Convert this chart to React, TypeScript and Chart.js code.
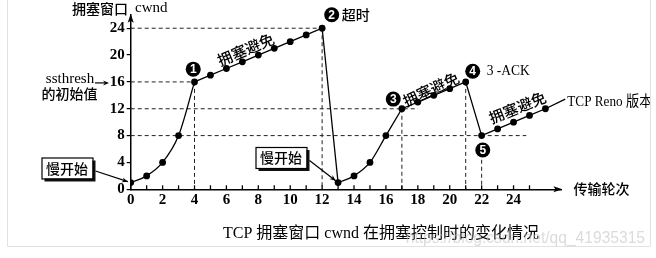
import React, { useEffect, useRef } from 'react';
import { Chart, registerables } from 'chart.js';

Chart.register(...registerables);

// ---- data ----
const ROUNDS = [0, 1, 2, 3, 4, 5, 6, 7, 8, 9, 10, 11, 12, 13, 14, 15, 16, 17, 18, 19, 20, 21, 22, 23, 24, 25, 26];
const CWND = [1, 2, 4, 8, 16, 17, 18, 19, 20, 21, 22, 23, 24, 1, 2, 4, 8, 12, 13, 14, 15, 16, 8, 9, 10, 11, 12];
const SLOW_START = [[0, 4], [13, 17]]; // index ranges drawn as smooth curves
const X_TICKS = [0, 1, 2, 3, 4, 5, 6, 7, 8, 9, 10, 11, 12, 13, 14, 15, 16, 17, 18, 19, 20, 21, 22, 23, 24, 25];
const X_LABELS = [0, 2, 4, 6, 8, 10, 12, 14, 16, 18, 20, 22, 24];
const Y_TICKS = [0, 4, 8, 12, 16, 20, 24];
const X_MAX = 27;
const Y_MAX = 26;
// dashed guides: [y, fromX, toX]
const H_GUIDES = [[24, 0, 12], [16, 0, 4], [12, 0, 18], [8, 0, 24.8]];
// dashed guides: [x, fromY] down to 0
const V_GUIDES = [[4, 16], [12, 24], [17, 12], [21, 16], [22, 4.4]];
// numbered markers [label, x, y]
const MARKERS: [string, number, number][] = [['1', 3.92, 17.9], ['2', 12.6, 26.0], ['3', 16.46, 13.44], ['4', 21.44, 17.59], ['5', 22.07, 5.86]];
// rotated "拥塞避免" labels [x, y, angleDeg]
const CA_LABELS: [number, number, number][] = [[7.21, 20.83, -23], [18.82, 14.9, -25], [24.25, 12.19, -22]];

const SERIF = '"Liberation Serif", "Noto Sans CJK SC", serif';
const CJK = '"Noto Sans CJK SC", sans-serif';

function inSlowStart(i: number) {
  return SLOW_START.some(([a, b]) => i >= a && i < b);
}

function arrowHead(ctx: CanvasRenderingContext2D, x: number, y: number, ang: number, len = 8, hw = 3) {
  ctx.save();
  ctx.translate(x, y);
  ctx.rotate(ang);
  ctx.beginPath();
  ctx.moveTo(0, 0);
  ctx.lineTo(-len, -hw);
  ctx.lineTo(-len + 2, 0);
  ctx.lineTo(-len, hw);
  ctx.closePath();
  ctx.fill();
  ctx.restore();
}

function line(ctx: CanvasRenderingContext2D, x0: number, y0: number, x1: number, y1: number) {
  ctx.beginPath();
  ctx.moveTo(x0, y0);
  ctx.lineTo(x1, y1);
  ctx.stroke();
}

function narrowText(ctx: CanvasRenderingContext2D, text: string, x: number, y: number, sx: number) {
  ctx.save();
  ctx.translate(x, y);
  ctx.scale(sx, 1);
  ctx.fillText(text, 0, 0);
  ctx.restore();
}

const decor = {
  id: 'decor',
  beforeDraw(chart: any) {
    const ctx: CanvasRenderingContext2D = chart.ctx;
    ctx.save();
    ctx.fillStyle = '#fff';
    ctx.fillRect(0, 0, chart.width, chart.height);
    ctx.strokeStyle = '#e2e2e2';
    ctx.lineWidth = 1;
    ctx.beginPath();
    ctx.moveTo(7.5, 0);
    ctx.lineTo(7.5, 246.5);
    ctx.lineTo(650.5, 246.5);
    ctx.lineTo(650.5, 0);
    ctx.stroke();
    ctx.restore();
  },
  beforeDatasetsDraw(chart: any) {
    const ctx: CanvasRenderingContext2D = chart.ctx;
    const xs = chart.scales.x, ys = chart.scales.y;
    const px = (v: number) => xs.getPixelForValue(v);
    const py = (v: number) => ys.getPixelForValue(v);
    ctx.save();
    ctx.strokeStyle = '#222';
    ctx.lineWidth = 1;
    ctx.setLineDash([4, 3]);
    H_GUIDES.forEach(([y, a, b]) => line(ctx, px(a), py(y), px(b), py(y)));
    V_GUIDES.forEach(([x, y0]) => line(ctx, px(x), py(y0), px(x), py(0)));
    ctx.restore();
  },
  afterDraw(chart: any) {
    const ctx: CanvasRenderingContext2D = chart.ctx;
    const xs = chart.scales.x, ys = chart.scales.y;
    const px = (v: number) => xs.getPixelForValue(v);
    const py = (v: number) => ys.getPixelForValue(v);
    const ca = chart.chartArea;
    ctx.save();
    ctx.fillStyle = '#000';
    ctx.strokeStyle = '#000';
    ctx.lineWidth = 1.3;
    // x minor ticks (upward)
    xs.ticks.forEach((t: any) => line(ctx, px(t.value), py(0), px(t.value), py(0) - 4));
    // axis arrows
    arrowHead(ctx, px(0), ca.top - 1, -Math.PI / 2, 9, 3);
    arrowHead(ctx, ca.right + 1, py(0), 0, 9, 3);

    // axis titles
    ctx.textBaseline = 'middle';
    ctx.textAlign = 'left';
    ctx.font = `500 14px ${CJK}`;
    ctx.fillText('拥塞窗口', px(-3.68), py(26.87));
    ctx.font = `15px ${SERIF}`;
    ctx.fillText('cwnd', px(0.27), py(26.95));
    ctx.font = `500 14px ${CJK}`;
    ctx.fillText('传输轮次', ca.right + 12, py(0.1));

    // ssthresh label
    ctx.textAlign = 'center';
    ctx.font = `15px ${SERIF}`;
    ctx.fillText('ssthresh', 70, py(16) - 3);
    ctx.font = `500 14px ${CJK}`;
    ctx.fillText('的初始值', 69.5, py(16) + 12);
    ctx.lineWidth = 1.2;
    line(ctx, 95, py(16) + 1, 106, py(16) + 1);
    arrowHead(ctx, 109, py(16) + 1, 0, 6, 2.5);

    // numbered markers
    MARKERS.forEach(([n, x, y]) => {
      ctx.beginPath();
      ctx.arc(px(x), py(y), 7.5, 0, Math.PI * 2);
      ctx.fillStyle = '#000';
      ctx.fill();
      ctx.fillStyle = '#fff';
      ctx.font = `bold 12px "Liberation Sans", sans-serif`;
      ctx.textAlign = 'center';
      ctx.fillText(n, px(x), py(y) + 0.5);
    });
    ctx.fillStyle = '#000';
    ctx.textAlign = 'left';
    ctx.font = `500 14px ${CJK}`;
    ctx.fillText('超时', px(13.23), py(26.0));
    ctx.font = `15px ${SERIF}`;
    narrowText(ctx, '3 -ACK', px(22.32), py(17.6), 0.9);

    // rotated congestion-avoidance labels
    ctx.font = `500 15px ${CJK}`;
    ctx.textAlign = 'center';
    CA_LABELS.forEach(([x, y, a]) => {
      ctx.save();
      ctx.translate(px(x), py(y));
      ctx.rotate((a * Math.PI) / 180);
      ctx.fillText('拥塞避免', 0, 0);
      ctx.restore();
    });

    // TCP Reno leader + label (clipped by frame)
    const last = ROUNDS.length - 1;
    ctx.lineWidth = 1.3;
    line(ctx, px(ROUNDS[last]), py(CWND[last]), px(27.24), py(13.44));
    ctx.save();
    ctx.beginPath();
    ctx.rect(0, 0, 650, chart.height);
    ctx.clip();
    ctx.textAlign = 'left';
    ctx.font = `15px ${SERIF}`;
    narrowText(ctx, 'TCP Reno 版本', px(27.37), py(13.06), 0.88);
    ctx.restore();

    // slow-start boxes
    const box = (cx: number, cy: number, tx: number, ty: number) => {
      const w = 51, h = 21;
      const l = cx - w / 2, t = cy - h / 2;
      ctx.fillStyle = '#111';
      ctx.fillRect(l + 3, t + 3, w, h);
      ctx.fillStyle = '#fff';
      ctx.fillRect(l, t, w, h);
      ctx.strokeStyle = '#000';
      ctx.lineWidth = 1.2;
      ctx.strokeRect(l + 0.5, t + 0.5, w, h);
      ctx.fillStyle = '#000';
      ctx.font = `500 14px ${CJK}`;
      ctx.textAlign = 'center';
      ctx.fillText('慢开始', cx, cy + 0.5);
      const sx = l + w + 3, sy = cy + 3;
      const ang = Math.atan2(ty - sy, tx - sx);
      const ex = tx - Math.cos(ang) * 3, ey = ty - Math.sin(ang) * 3;
      line(ctx, sx, sy, ex, ey);
      arrowHead(ctx, ex, ey, ang, 6, 2.5);
    };
    box(67, 168, px(ROUNDS[0]), py(CWND[0]));
    box(281, 157.5, px(ROUNDS[13]), py(CWND[13]));

    // caption
    ctx.fillStyle = '#000';
    ctx.textAlign = 'center';
    ctx.font = `16px ${SERIF}`;
    ctx.fillText('TCP 拥塞窗口 cwnd 在拥塞控制时的变化情况', 381, 234);

    // watermark
    ctx.fillStyle = 'rgba(190,190,190,0.55)';
    ctx.textAlign = 'right';
    ctx.font = `15.6px "Liberation Sans", sans-serif`;
    ctx.fillText('https://blog.csdn.net/qq_41935315', 645, 238.5);
    ctx.restore();
  },
};

export default function App() {
  const ref = useRef<HTMLCanvasElement>(null);
  useEffect(() => {
    if (!ref.current) return;
    const points = ROUNDS.map((x, i) => ({ x, y: CWND[i] }));
    const curves = SLOW_START.map(([a, b]) => ({
      data: points.slice(a, b + 1),
      borderColor: '#000',
      borderWidth: 1.3,
      pointRadius: 0,
      cubicInterpolationMode: 'monotone' as const,
      fill: false,
    }));
    const chart = new Chart(ref.current, {
      type: 'line',
      data: {
        datasets: [
          {
            data: points,
            borderColor: '#000',
            borderWidth: 1.3,
            tension: 0,
            pointRadius: 3.4,
            pointBackgroundColor: '#000',
            pointBorderColor: '#000',
            pointBorderWidth: 0,
            fill: false,
            segment: {
              borderColor: (c: any) => (inSlowStart(c.p0DataIndex) ? 'rgba(0,0,0,0)' : '#000'),
            },
          },
          ...curves,
        ],
      },
      options: {
        responsive: false,
        animation: false,
        devicePixelRatio: 1,
        layout: { padding: { left: 0, right: 656 - 561.4, top: 14.8, bottom: 0 } },
        plugins: { legend: { display: false }, tooltip: { enabled: false }, title: { display: false } },
        scales: {
          x: {
            type: 'linear',
            min: 0,
            max: X_MAX,
            afterFit: (s: any) => { s.height = 258 - 189.3; },
            afterBuildTicks: (s: any) => { s.ticks = X_TICKS.map((v) => ({ value: v })); },
            grid: { display: true, drawOnChartArea: false, drawTicks: false },
            border: { display: true, color: '#000', width: 1.5 },
            ticks: {
              autoSkip: false,
              maxRotation: 0,
              padding: 2,
              color: '#000',
              font: { family: SERIF, size: 15, weight: 'bold' },
              callback: (v: any) => (X_LABELS.includes(Number(v)) ? String(v) : ''),
            },
          },
          y: {
            type: 'linear',
            min: 0,
            max: Y_MAX,
            afterFit: (s: any) => { s.width = 130.7; },
            afterBuildTicks: (s: any) => { s.ticks = Y_TICKS.map((v) => ({ value: v })); },
            grid: { display: true, drawOnChartArea: false, drawTicks: true, tickLength: 4, color: '#000', lineWidth: 1.2 },
            border: { display: true, color: '#000', width: 1.5 },
            ticks: {
              padding: 2,
              color: '#000',
              font: { family: SERIF, size: 15, weight: 'bold' },
              callback: (v: any) => String(v),
            },
          },
        },
      },
      plugins: [decor],
    } as any);
    return () => chart.destroy();
  }, []);
  return (
    <canvas
      ref={ref}
      width={656}
      height={258}
      style={{ position: 'absolute', left: 0, top: 0, display: 'block' }}
    />
  );
}
